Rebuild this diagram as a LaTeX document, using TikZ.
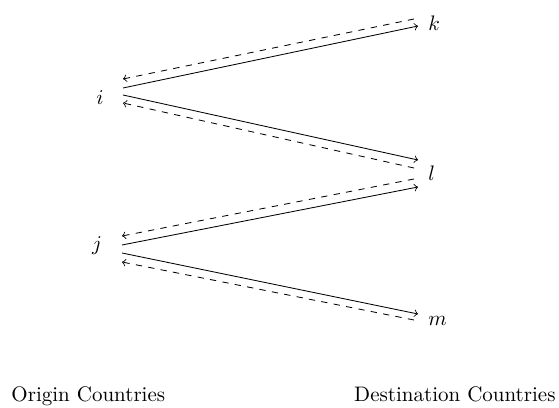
\documentclass[tikz,border=0pt]{standalone}
\begin{document}
\begin{tikzpicture}[x=0.476pt,y=-0.476pt,
  lbl/.style={inner sep=0pt},
  fwd/.style={->},
  bwd/.style={->,dashed}]
\useasboundingbox (0,0) rectangle (559,408);
% origin nodes
\node[lbl] (i) at (100,98) {$i$};
\node[lbl] (j) at (97,246) {$j$};
% destination nodes
\node[lbl,anchor=west] (k) at (428,23.5) {$k$};
\node[lbl,anchor=west] (l) at (428,173.5) {$l$};
\node[lbl,anchor=west] (m) at (428,321) {$m$};
% i <-> k
\draw[fwd] ([shift={(23,-10)}]i.center) -- ([shift={(-10,2.5)}]k.west);
\draw[bwd] ([shift={(-14,-4.5)}]k.west) -- ([shift={(23,-19)}]i.center);
% i <-> l
\draw[fwd] ([shift={(23,-3)}]i.center) -- ([shift={(-10,-13.5)}]l.west);
\draw[bwd] ([shift={(-14,-5.5)}]l.west) -- ([shift={(23,5)}]i.center);
% j <-> l
\draw[fwd] ([shift={(25,-1)}]j.center) -- ([shift={(-10,13.5)}]l.west);
\draw[bwd] ([shift={(-14,5.5)}]l.west) -- ([shift={(25,-10)}]j.center);
% j <-> m
\draw[fwd] ([shift={(25,7)}]j.center) -- ([shift={(-10,-7)}]m.west);
\draw[bwd] ([shift={(-14,-1)}]m.west) -- ([shift={(25,16)}]j.center);
% captions
\node[lbl,anchor=base west] (orig) at (11,402) {Origin Countries};
\node[lbl,anchor=base east] (dest) at (556,402) {Destination Countries};
\end{tikzpicture}
\end{document}
